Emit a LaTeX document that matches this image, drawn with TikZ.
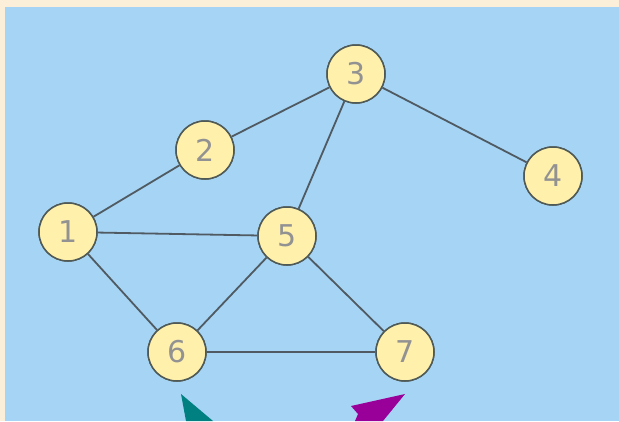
\documentclass[tikz,border=0pt]{standalone}
\usepackage{fontspec}
\setmainfont{DejaVu Sans}
\definecolor{cream}{HTML}{FCEFDA}
\definecolor{skyb}{HTML}{A6D4F4}
\definecolor{nodefill}{HTML}{FFF0AC}
\definecolor{nodeline}{HTML}{4F5A56}
\definecolor{edgecol}{HTML}{4F5A62}
\definecolor{txtcol}{HTML}{929292}
\definecolor{tealc}{HTML}{008080}
\definecolor{magc}{HTML}{990099}
\begin{document}
\begin{tikzpicture}[x=1pt,y=-1pt,
  vert/.style={circle,draw=nodeline,fill=nodefill,line width=1.5pt,minimum size=58pt,inner sep=0pt,
    text=txtcol,font=\fontsize{30}{30}\selectfont},
  edge/.style={draw=edgecol,line width=1.8pt}]
\useasboundingbox (0,0) rectangle (619,421);
\fill[cream] (0,0) rectangle (619,421);
\fill[skyb] (5,7) rectangle (619,421);
\node[vert] (n1) at (68,232) {1};
\node[vert] (n2) at (205,150) {2};
\node[vert] (n3) at (356,74) {3};
\node[vert] (n4) at (553,176) {4};
\node[vert] (n5) at (287,236) {5};
\node[vert] (n6) at (177,352) {6};
\node[vert] (n7) at (405,352) {7};
\path[edge] (n1) -- (n2);
\path[edge] (n2) -- (n3);
\path[edge] (n3) -- (n5);
\path[edge] (n3) -- (n4);
\path[edge] (n1) -- (n5);
\path[edge] (n1) -- (n6);
\path[edge] (n5) -- (n6);
\path[edge] (n5) -- (n7);
\path[edge] (n6) -- (n7);
\foreach \n in {1,...,7} {\node[vert] at (n\n) {\n};}
\fill[tealc] (181,394) -- (213,421) -- (186,421) -- cycle;
\fill[magc] (405,394) -- (383,421) -- (355,421) -- (358,414) -- (351,406) -- cycle;
\end{tikzpicture}
\end{document}
